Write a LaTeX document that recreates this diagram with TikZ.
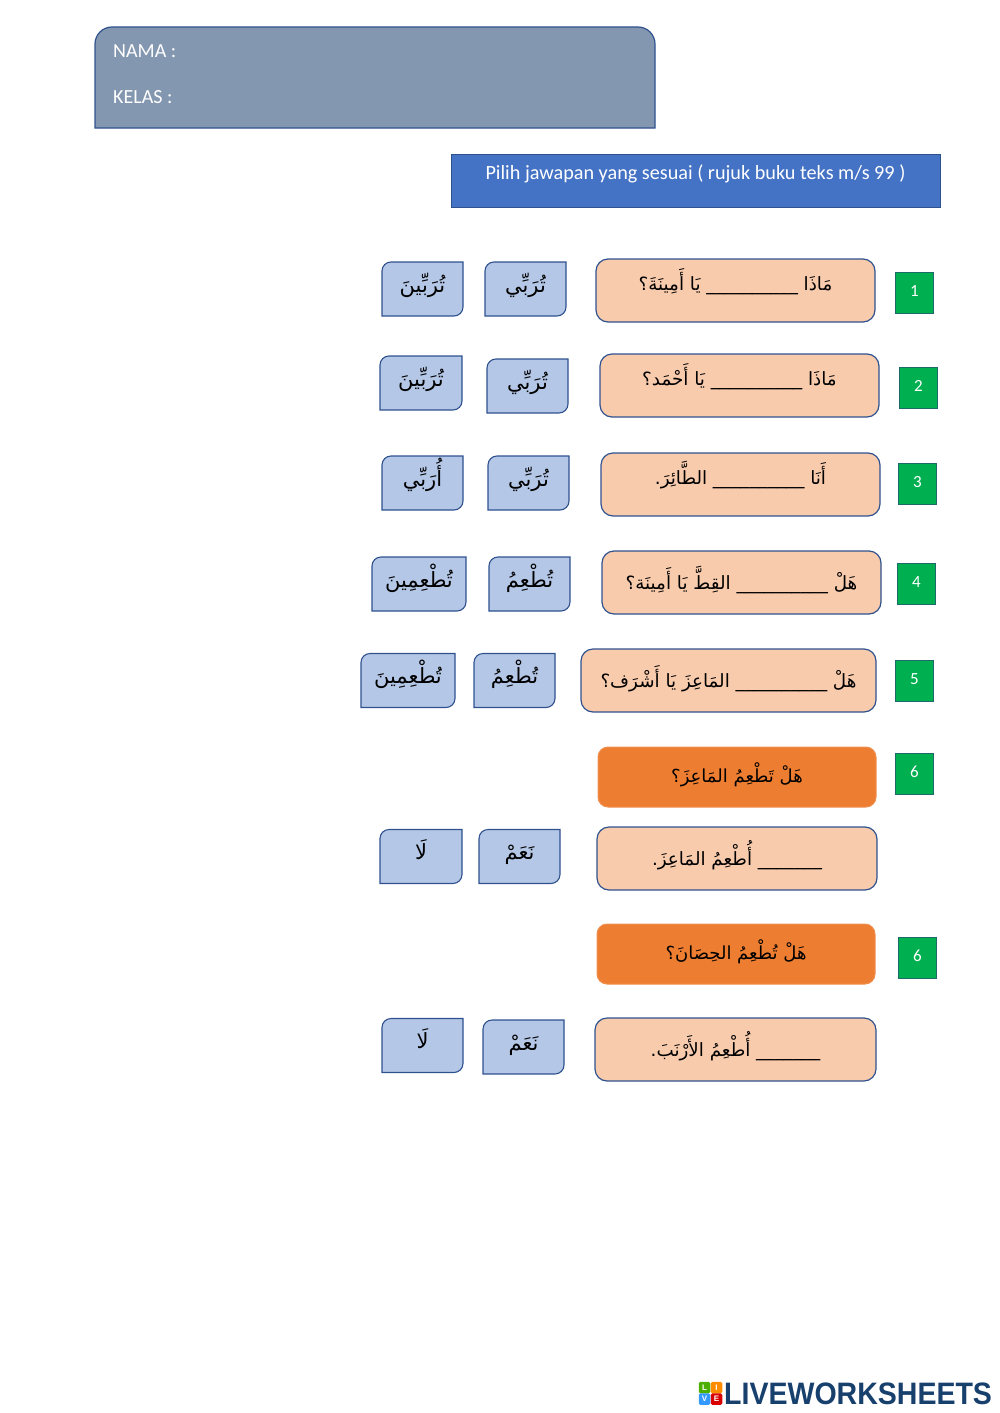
\documentclass[tikz,border=0pt]{standalone}
\usepackage{fontspec}
\setmainfont{Carlito}
\newfontfamily\arabicfont[Script=Arabic]{DejaVu Sans}
\newfontfamily\logofont{Liberation Sans}
\TeXXeTstate=1
\definecolor{namecolor}{HTML}{8497B0}
\definecolor{titlecolor}{HTML}{4472C4}
\definecolor{linecolor}{HTML}{2F528F}
\definecolor{askcolor}{HTML}{F8CBAD}
\definecolor{cardcolor}{HTML}{B4C7E7}
\definecolor{quizcolor}{HTML}{ED7D31}
\definecolor{numbercolor}{HTML}{00B050}
\definecolor{numberline}{HTML}{1D6A6B}
\definecolor{logocolor}{HTML}{17406D}
\newcommand{\ar}[1]{\beginR #1\endR}
\newcommand{\gap}{\_\_\_\_\_\_\_\_\_\_}
\newcommand{\shortgap}{\_\_\_\_\_\_\_}
\makeatletter
% rounded corners top left and bottom right only
\pgfdeclareshape{answercard}{
  \inheritsavedanchors[from=rectangle]
  \inheritanchorborder[from=rectangle]
  \inheritanchor[from=rectangle]{center}
  \inheritanchor[from=rectangle]{west}
  \inheritanchor[from=rectangle]{east}
  \backgroundpath{
    \southwest \pgf@xa=\pgf@x \pgf@ya=\pgf@y
    \northeast \pgf@xb=\pgf@x \pgf@yb=\pgf@y
    \pgfpathmoveto{\pgfqpoint{\pgf@xa}{\pgf@ya}}
    \pgfpathlineto{\pgfpoint{\pgf@xa}{\pgf@yb-9pt}}
    \pgfpatharc{180}{90}{9pt}
    \pgfpathlineto{\pgfqpoint{\pgf@xb}{\pgf@yb}}
    \pgfpathlineto{\pgfpoint{\pgf@xb}{\pgf@ya+9pt}}
    \pgfpatharc{0}{-90}{9pt}
    \pgfpathclose
  }
}
% rounded corners on top only
\pgfdeclareshape{namecard}{
  \inheritsavedanchors[from=rectangle]
  \inheritanchorborder[from=rectangle]
  \inheritanchor[from=rectangle]{center}
  \inheritanchor[from=rectangle]{west}
  \inheritanchor[from=rectangle]{east}
  \backgroundpath{
    \southwest \pgf@xa=\pgf@x \pgf@ya=\pgf@y
    \northeast \pgf@xb=\pgf@x \pgf@yb=\pgf@y
    \pgfpathmoveto{\pgfqpoint{\pgf@xa}{\pgf@ya}}
    \pgfpathlineto{\pgfpoint{\pgf@xa}{\pgf@yb-17pt}}
    \pgfpatharc{180}{90}{17pt}
    \pgfpathlineto{\pgfpoint{\pgf@xb-17pt}{\pgf@yb}}
    \pgfpatharc{90}{0}{17pt}
    \pgfpathlineto{\pgfqpoint{\pgf@xb}{\pgf@ya}}
    \pgfpathclose
  }
}
\makeatother
\tikzset{
  namebox/.style={namecard, draw=linecolor, line width=1.2pt, fill=namecolor, inner sep=0pt, outer sep=0pt},
  namelabel/.style={anchor=base west, inner sep=0pt, text=white, font=\fontsize{20}{22}\selectfont},
  titlebox/.style={draw=linecolor, line width=1pt, fill=titlecolor, inner sep=0pt, outer sep=0pt, text=white,
    text height=25pt, text depth=28pt, font=\fontsize{20.2}{22}\selectfont},
  askbox/.style={draw=linecolor, line width=1.2pt, fill=askcolor, rounded corners=12pt, inner sep=0pt, outer sep=0pt,
    minimum height=63pt, text height=31pt, text depth=32pt, font=\arabicfont\fontsize{18.3}{20}\selectfont},
  lowtext/.style={text height=38pt, text depth=25pt},
  quizbox/.style={draw=quizcolor!85!white, line width=1pt, fill=quizcolor, rounded corners=10pt, inner sep=0pt, outer sep=0pt,
    minimum height=60pt, text height=35pt, text depth=25pt, font=\arabicfont\fontsize{18}{20}\selectfont},
  cardbox/.style={answercard, draw=linecolor, line width=1.1pt, fill=cardcolor, inner sep=0pt, outer sep=0pt,
    minimum height=54pt, text height=30pt, text depth=24pt, font=\arabicfont\fontsize{21}{20}\selectfont},
  numberbox/.style={draw=numberline, line width=1.2pt, fill=numbercolor, inner sep=0pt, outer sep=0pt,
    minimum width=38pt, minimum height=41pt, text height=24pt, text depth=17pt, text=white, font=\fontsize{17}{18}\selectfont},
  logotile/.style={rounded corners=1.5pt, inner sep=0pt, minimum size=11.5pt, text=white, font=\logofont\bfseries\fontsize{8}{8}\selectfont},
}
\begin{document}
\begin{tikzpicture}[x=1pt,y=-1pt]
  \useasboundingbox (0,0) rectangle (1000,1413);
  % header
  \node[namebox, minimum width=560pt, minimum height=101pt] (name) at (375,77.5) {};
  \node[namelabel] (namatext) at (113,57.5) {NAMA :};
  \node[namelabel] (kelastext) at (113,103.5) {KELAS :};
  \node[titlebox, minimum width=489pt, minimum height=53pt] (title) at (695.5,180.5) {Pilih jawapan yang sesuai ( rujuk buku teks m/s 99 )};
  % row 1
  \node[numberbox] (num1) at (914.5,293) {1};
  \node[askbox, minimum width=279pt] (ask1) at (735.5,290.5) {\ar{مَاذَا \gap{} يَا أَمِينَةَ؟}};
  \node[cardbox, minimum width=81pt] (card1a) at (525.5,289) {\ar{تُرَبِّي}};
  \node[cardbox, minimum width=81pt] (card1b) at (422.5,289) {\ar{تُرَبِّينَ}};
  % row 2
  \node[numberbox] (num2) at (918.5,388) {2};
  \node[askbox, minimum width=279pt] (ask2) at (739.5,385.5) {\ar{مَاذَا \gap{} يَا أَحْمَد؟}};
  \node[cardbox, minimum width=81pt] (card2a) at (527.5,386) {\ar{تُرَبِّي}};
  \node[cardbox, minimum width=82pt] (card2b) at (421,383) {\ar{تُرَبِّينَ}};
  % row 3
  \node[numberbox] (num3) at (917.5,484) {3};
  \node[askbox, minimum width=279pt] (ask3) at (740.5,484.5) {\ar{أَنَا \gap{} الطَّائِرَ.}};
  \node[cardbox, minimum width=81pt] (card3a) at (528.5,483) {\ar{تُرَبِّي}};
  \node[cardbox, minimum width=81pt] (card3b) at (422.5,483) {\ar{أُرَبِّي}};
  % row 4
  \node[numberbox] (num4) at (916.5,584) {4};
  \node[askbox, lowtext, minimum width=279pt] (ask4) at (741.5,582.5) {\ar{هَلْ \gap{} القِطَّ يَا أَمِينَة؟}};
  \node[cardbox, minimum width=81pt] (card4a) at (529.5,584) {\ar{تُطْعِمُ}};
  \node[cardbox, minimum width=94pt] (card4b) at (419,584) {\ar{تُطْعِمِينَ}};
  % row 5
  \node[numberbox] (num5) at (914.5,681) {5};
  \node[askbox, lowtext, minimum width=295pt] (ask5) at (728.5,680.5) {\ar{هَلْ \gap{} المَاعِزَ يَا أَشْرَف؟}};
  \node[cardbox, minimum width=81pt] (card5a) at (514.5,680.5) {\ar{تُطْعِمُ}};
  \node[cardbox, minimum width=94pt] (card5b) at (408,680.5) {\ar{تُطْعِمِينَ}};
  % row 6
  \node[numberbox] (num6) at (914.5,774) {6};
  \node[quizbox, minimum width=278pt] (quiz6) at (737,777) {\ar{هَلْ تَطْعِمُ المَاعِزَ؟}};
  \node[askbox, lowtext, minimum width=280pt] (ask6) at (737,858.5) {\ar{\shortgap{} أُطْعِمُ المَاعِزَ.}};
  \node[cardbox, minimum width=81pt] (card6a) at (519.5,856.5) {\ar{نَعَمْ}};
  \node[cardbox, minimum width=82pt] (card6b) at (421,856.5) {\ar{لَا}};
  % row 7
  \node[numberbox] (num7) at (917.5,958) {6};
  \node[quizbox, minimum width=278pt] (quiz7) at (736,954) {\ar{هَلْ تُطْعِمُ الحِصَانَ؟}};
  \node[askbox, lowtext, minimum width=281pt] (ask7) at (735.5,1049.5) {\ar{\shortgap{} أُطْعِمُ الأَرْنَبَ.}};
  \node[cardbox, minimum width=81pt] (card7a) at (523.5,1047) {\ar{نَعَمْ}};
  \node[cardbox, minimum width=81pt] (card7b) at (422.5,1045.5) {\ar{لَا}};
  % logo
  \node[logotile, fill=green!55!black!70!yellow] (tilel) at (704.5,1387.5) {L};
  \node[logotile, fill=orange!90!yellow] (tilei) at (716.5,1387.5) {I};
  \node[logotile, fill=blue!50!cyan!80] (tilev) at (704.5,1399) {V};
  \node[logotile, fill=red!85!black] (tilee) at (716.5,1399) {E};
  \node[anchor=base west, inner sep=0pt, text=logocolor, font=\logofont\bfseries\fontsize{31}{32}\selectfont] (logo) at (724,1404) {\scalebox{0.92}[1]{LIVEWORKSHEETS}};
\end{tikzpicture}
\end{document}
